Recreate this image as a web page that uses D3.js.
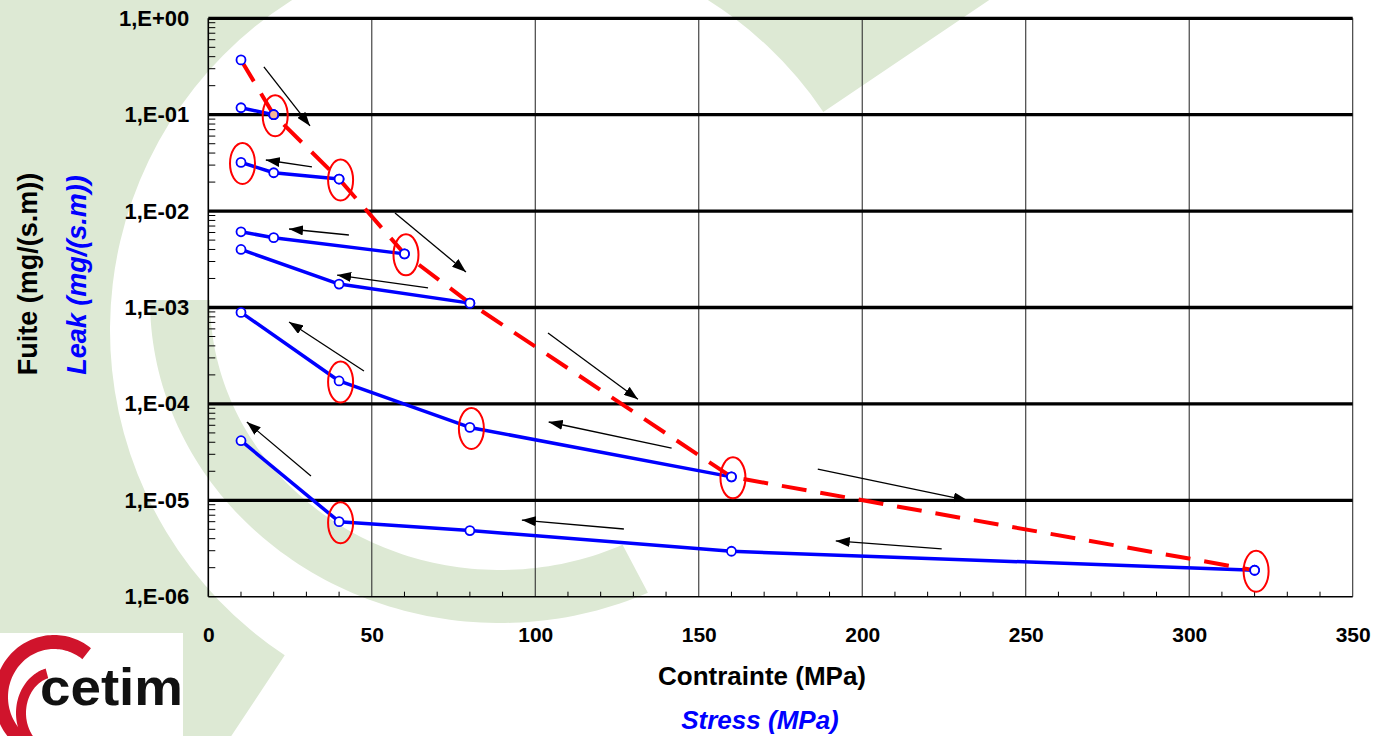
<!DOCTYPE html>
<html><head><meta charset="utf-8">
<script src="https://cdn.jsdelivr.net/npm/d3@7"></script>
<style>
html,body{margin:0;padding:0;background:#fff;}
svg{display:block;}
text{font-family:"Liberation Sans",Arial,Helvetica,sans-serif;}
</style>
</head><body>
<svg id="chart" width="1378" height="736"></svg>
<script>
// ---------- data ----------
const xTickValues = [0, 50, 100, 150, 200, 250, 300, 350];
const xTickLabels = ["0", "50", "100", "150", "200", "250", "300", "350"];
const yTickValues = [1e-6, 1e-5, 1e-4, 1e-3, 1e-2, 1e-1, 1];
const yTickLabels = ["1,E-06", "1,E-05", "1,E-04", "1,E-03", "1,E-02", "1,E-01", "1,E+00"];

// red dashed path (loading)
const redX = [10, 20, 40, 60, 80, 160, 320];
const redY = [0.37, 0.1, 0.0215, 0.0036, 0.00111, 1.75e-5, 1.88e-6];

// blue unloading curves
const blue1X = [10, 20];
const blue1Y = [0.118, 0.1];
const blue2X = [10, 20, 40];
const blue2Y = [0.032, 0.025, 0.0215];
const blue3X = [10, 20, 60];
const blue3Y = [0.0061, 0.0053, 0.0036];
const blue4X = [10, 40, 80];
const blue4Y = [0.0040, 0.00175, 0.00111];
const blue5X = [10, 40, 80, 160];
const blue5Y = [0.00089, 1.73e-4, 5.7e-5, 1.75e-5];
const blue6X = [10, 40, 80, 160, 320];
const blue6Y = [4.15e-5, 6.0e-6, 4.85e-6, 2.96e-6, 1.88e-6];

// circled points
const circledX = [20, 10, 40, 60, 40, 80, 160, 40, 320];
const circledY = [0.1, 0.032, 0.0215, 0.0036, 1.73e-4, 5.7e-5, 1.75e-5, 6.0e-6, 1.88e-6];
const highlightX = [20];
const highlightY = [0.1];

// annotation arrows (from -> to, data units)
const arrowX1 = [17.0, 31.7, 43.0, 57.1, 67.2, 47.6, 31.4, 103.9, 141.7, 127.1, 186.4, 224.3];
const arrowY1 = [0.313, 0.0287, 0.00565, 0.00955, 0.0016, 2.19e-4, 1.79e-5, 5.44e-4, 3.48e-5, 5.04e-6, 2.11e-5, 3.13e-6];
const arrowX2 = [31.1, 17.6, 24.7, 78.8, 39.4, 24.7, 11.8, 131.4, 104.1, 95.9, 232.2, 191.9];
const arrowY2 = [0.0764, 0.0339, 0.00652, 0.00234, 0.00217, 7.08e-4, 6.49e-5, 1.12e-4, 6.49e-5, 6.24e-6, 1.0e-5, 3.79e-6];

// ---------- setup ----------
const svg = d3.select("#chart");
const M = {left: 208.3, right: 1352.7, top: 18.3, bottom: 596.7};
const x = d3.scaleLinear().domain([0, 350]).range([M.left, M.right]);
const y = d3.scaleLog().domain([1e-6, 1]).range([M.bottom, M.top]);
const rad = Math.PI / 180;

function ellBand(cx, cy, rxo, ryo, rxi, ryi, t0, t1) {
  const n = 90, pts = [];
  for (let i = 0; i <= n; i++) { const t = (t0 + (t1 - t0) * i / n) * rad; pts.push([cx + rxo * Math.cos(t), cy + ryo * Math.sin(t)]); }
  for (let i = n; i >= 0; i--) { const t = (t0 + (t1 - t0) * i / n) * rad; pts.push([cx + rxi * Math.cos(t), cy + ryi * Math.sin(t)]); }
  return "M" + pts.map(p => p.map(v => v.toFixed(2)).join(",")).join("L") + "Z";
}

// ---------- background watermark ----------
const green = "#dde9d4";
const bg = svg.append("g");
bg.append("path")
  .attr("transform", "translate(500,330)")
  .attr("d", d3.arc()({innerRadius: 390, outerRadius: 760, startAngle: 213.5 * rad, endAngle: 416 * rad}))
  .attr("fill", green);
bg.append("path").attr("d", ellBand(500, 300, 350, 323, 290, 270, 65, 180)).attr("fill", green);

// ---------- logo ----------
const logo = svg.append("g");
logo.append("clipPath").attr("id", "logoClip").append("rect").attr("x", 0).attr("y", 633).attr("width", 183).attr("height", 103);
logo.append("rect").attr("x", 0).attr("y", 633).attr("width", 183).attr("height", 103).attr("fill", "#fff");
const lg = logo.append("g").attr("clip-path", "url(#logoClip)");
lg.append("path").attr("d", ellBand(54, 697, 60, 62, 46, 48, 120, 308)).attr("fill", "#d0142c");
lg.append("path").attr("d", ellBand(56, 713, 40, 46, 30, 36, 115, 255)).attr("fill", "#d0142c");
lg.append("text").attr("x", 40).attr("y", 705).attr("font-size", 52).attr("font-weight", "bold")
  .attr("textLength", 143).attr("lengthAdjust", "spacingAndGlyphs").attr("fill", "#111").text("cetim");

// ---------- grid ----------
const grid = svg.append("g");
grid.selectAll("line.v").data(xTickValues.filter(d => d > 0)).enter().append("line")
  .attr("x1", d => x(d)).attr("x2", d => x(d)).attr("y1", M.top).attr("y2", M.bottom)
  .attr("stroke", "#333").attr("stroke-width", 1.1);
grid.selectAll("line.h").data(yTickValues.filter(d => d > 1e-6)).enter().append("line")
  .attr("x1", M.left).attr("x2", M.right).attr("y1", d => y(d)).attr("y2", d => y(d))
  .attr("stroke", "#000").attr("stroke-width", 3.3);
grid.append("line").attr("x1", M.left).attr("x2", M.left).attr("y1", M.top).attr("y2", M.bottom).attr("stroke", "#000").attr("stroke-width", 1.6);
grid.append("line").attr("x1", M.left).attr("x2", M.right).attr("y1", M.bottom).attr("y2", M.bottom).attr("stroke", "#000").attr("stroke-width", 1.6);
const yMinor = [];
for (let e = -6; e < 0; e++) for (let k = 2; k <= 9; k++) yMinor.push(k * Math.pow(10, e));
grid.selectAll("line.ym").data(yMinor).enter().append("line")
  .attr("x1", M.left).attr("x2", M.left + 7).attr("y1", d => y(d)).attr("y2", d => y(d))
  .attr("stroke", "#000").attr("stroke-width", 1);
const xMinor = d3.range(10, 350, 10).filter(d => d % 50 !== 0);
grid.selectAll("line.xm").data(xMinor).enter().append("line")
  .attr("x1", d => x(d)).attr("x2", d => x(d)).attr("y1", M.bottom).attr("y2", M.bottom - 5)
  .attr("stroke", "#000").attr("stroke-width", 1);

// ---------- axes labels ----------
const ax = svg.append("g").attr("transform", `translate(0,${M.bottom})`)
  .call(d3.axisBottom(x).tickValues(xTickValues).tickFormat((d, i) => xTickLabels[i]).tickSize(0).tickPadding(30));
ax.select(".domain").remove();
ax.selectAll("text").attr("font-size", 21).attr("font-weight", "bold").attr("fill", "#000")
  .style("font-family", '"Liberation Sans",Arial,sans-serif');
const ay = svg.append("g").attr("transform", `translate(${M.left},0)`)
  .call(d3.axisLeft(y).tickValues(yTickValues).tickFormat((d, i) => yTickLabels[i]).tickSize(0).tickPadding(19));
ay.select(".domain").remove();
ay.selectAll("text").attr("font-size", 22).attr("font-weight", "bold").attr("fill", "#000")
  .style("font-family", '"Liberation Sans",Arial,sans-serif');

// titles
svg.append("text").attr("x", 762).attr("y", 685).attr("text-anchor", "middle").attr("font-size", 26).attr("font-weight", "bold").attr("fill", "#000").text("Contrainte (MPa)");
svg.append("text").attr("x", 760).attr("y", 729).attr("text-anchor", "middle").attr("font-size", 26).attr("font-weight", "bold").attr("font-style", "italic").attr("fill", "#0000ff").text("Stress (MPa)");
svg.append("text").attr("transform", "translate(37,274) rotate(-90)").attr("text-anchor", "middle").attr("font-size", 27).attr("font-weight", "bold").attr("fill", "#000").text("Fuite (mg/(s.m))");
svg.append("text").attr("transform", "translate(86,275) rotate(-90)").attr("text-anchor", "middle").attr("font-size", 27).attr("font-weight", "bold").attr("font-style", "italic").attr("fill", "#0000ff").text("Leak (mg/(s.m))");

// ---------- series ----------
const line = d3.line().x(d => x(d[0])).y(d => y(d[1]));
const zip = (a, b) => a.map((v, i) => [v, b[i]]);
const blueSeries = [zip(blue1X, blue1Y), zip(blue2X, blue2Y), zip(blue3X, blue3Y), zip(blue4X, blue4Y), zip(blue5X, blue5Y), zip(blue6X, blue6Y)];
const redSeries = zip(redX, redY);

svg.append("g").selectAll("path").data(blueSeries).enter().append("path")
  .attr("d", line).attr("fill", "none").attr("stroke", "#0000ff").attr("stroke-width", 3.5).attr("stroke-linejoin", "round");
svg.append("path").datum(redSeries).attr("d", line).attr("fill", "none")
  .attr("stroke", "#ff0000").attr("stroke-width", 4).attr("stroke-dasharray", "25,14");

// arrows
const defs = svg.append("defs");
defs.append("marker").attr("id", "ah").attr("viewBox", "0 0 14 10").attr("refX", 14).attr("refY", 5)
  .attr("markerWidth", 14).attr("markerHeight", 10).attr("markerUnits", "userSpaceOnUse").attr("orient", "auto")
  .append("path").attr("d", "M0,0 L14,5 L0,10 Z").attr("fill", "#000");
svg.append("g").selectAll("line").data(arrowX1.map((v, i) => i)).enter().append("line")
  .attr("x1", i => x(arrowX1[i])).attr("y1", i => y(arrowY1[i]))
  .attr("x2", i => x(arrowX2[i])).attr("y2", i => y(arrowY2[i]))
  .attr("stroke", "#000").attr("stroke-width", 1.3).attr("marker-end", "url(#ah)");

// markers
const allPts = [].concat(...blueSeries, redSeries);
svg.append("g").selectAll("circle").data(allPts).enter().append("circle")
  .attr("cx", d => x(d[0])).attr("cy", d => y(d[1])).attr("r", 4.5)
  .attr("fill", "#fff").attr("stroke", "#0000ff").attr("stroke-width", 1.8);
svg.append("g").selectAll("circle").data(zip(highlightX, highlightY)).enter().append("circle")
  .attr("cx", d => x(d[0])).attr("cy", d => y(d[1])).attr("r", 4.5)
  .attr("fill", "#f5b896").attr("stroke", "#0000ff").attr("stroke-width", 1.8);

// red ellipses
svg.append("g").selectAll("ellipse").data(zip(circledX, circledY)).enter().append("ellipse")
  .attr("cx", d => x(d[0]) + 1.5).attr("cy", d => y(d[1]) + 1).attr("rx", 12.5).attr("ry", 20.5)
  .attr("fill", "none").attr("stroke", "#ff0000").attr("stroke-width", 2);
</script>
</body></html>
